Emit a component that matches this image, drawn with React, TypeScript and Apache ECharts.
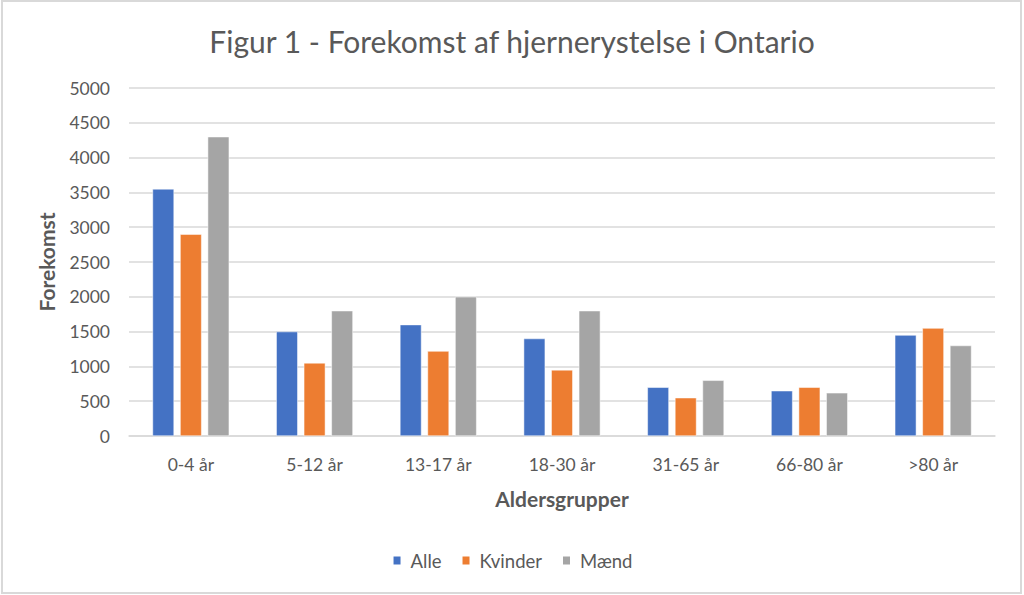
import React, { useEffect, useRef } from "react";
import * as echarts from "echarts";

const categories = ["0-4 år", "5-12 år", "13-17 år", "18-30 år", "31-65 år", "66-80 år", ">80 år"];
const alle = [3550, 1500, 1600, 1400, 700, 650, 1450];
const kvinder = [2900, 1050, 1220, 950, 550, 700, 1550];
const maend = [4300, 1800, 2000, 1800, 800, 620, 1300];
const seriesNames = ["Alle", "Kvinder", "Mænd"];
const colors = ["#4472c4", "#ed7d31", "#a5a5a5"];

const FONT = "Lato";
const TXT = "#595959";

export default function App() {
  const ref = useRef<HTMLDivElement>(null);
  useEffect(() => {
    if (!ref.current) return;
    const chart = echarts.init(ref.current, undefined, { renderer: "svg" });
    const data = [alle, kvinder, maend];
    chart.setOption({
      animation: false,
      backgroundColor: "#ffffff",
      textStyle: { fontFamily: FONT },
      title: {
        text: "Figur 1 - Forekomst af hjernerystelse i Ontario",
        left: "center",
        top: 21,
        textStyle: { fontFamily: FONT, fontSize: 30, fontWeight: "normal", color: TXT },
      },
      legend: {
        data: seriesNames,
        top: 546,
        left: "center",
        itemWidth: 9,
        itemHeight: 10,
        itemGap: 19,
        icon: "rect",
        textStyle: { fontFamily: FONT, fontSize: 18.5, color: TXT, padding: [0, 0, 0, 4] },
      },
      grid: { left: 129, right: 29, top: 88, bottom: 159, containLabel: false },
      xAxis: {
        type: "category",
        data: categories,
        axisLine: { lineStyle: { color: "#d9d9d9", width: 1.5 } },
        axisTick: { show: false },
        axisLabel: { fontFamily: FONT, fontSize: 17.5, color: TXT, margin: 19 },
        name: "Aldersgrupper",
        nameLocation: "middle",
        nameGap: 52,
        nameTextStyle: { fontFamily: FONT, fontSize: 21, fontWeight: "bold", color: TXT },
      },
      yAxis: {
        type: "value",
        min: 0,
        max: 5000,
        interval: 500,
        axisLine: { show: false },
        axisTick: { show: false },
        splitLine: { lineStyle: { color: "#d9d9d9", width: 1.5 } },
        axisLabel: {
          fontFamily: FONT,
          fontSize: 17.5,
          color: TXT,
          margin: 19,
          formatter: (v: number) => String(v),
        },
        name: "Forekomst",
        nameLocation: "middle",
        nameRotate: 90,
        nameGap: 72,
        nameTextStyle: { fontFamily: FONT, fontSize: 21, fontWeight: "bold", color: TXT },
      },
      series: seriesNames.map((n, i) => ({
        name: n,
        type: "bar",
        data: data[i],
        barGap: "28%",
        barCategoryGap: "38%",
        itemStyle: { color: colors[i], borderColor: "#ffffff", borderWidth: 0.5 },
      })),
      graphic: [
        {
          type: "rect",
          shape: { x: 2, y: 1, width: 1019, height: 592 },
          style: { fill: "none", stroke: "#d9d9d9", lineWidth: 2 },
          silent: true,
        },
      ],
    });
    return () => chart.dispose();
  }, []);
  return (
    <div
      ref={ref}
      style={{ position: "absolute", left: 0, top: 0, width: 1024, height: 595 }}
    />
  );
}
